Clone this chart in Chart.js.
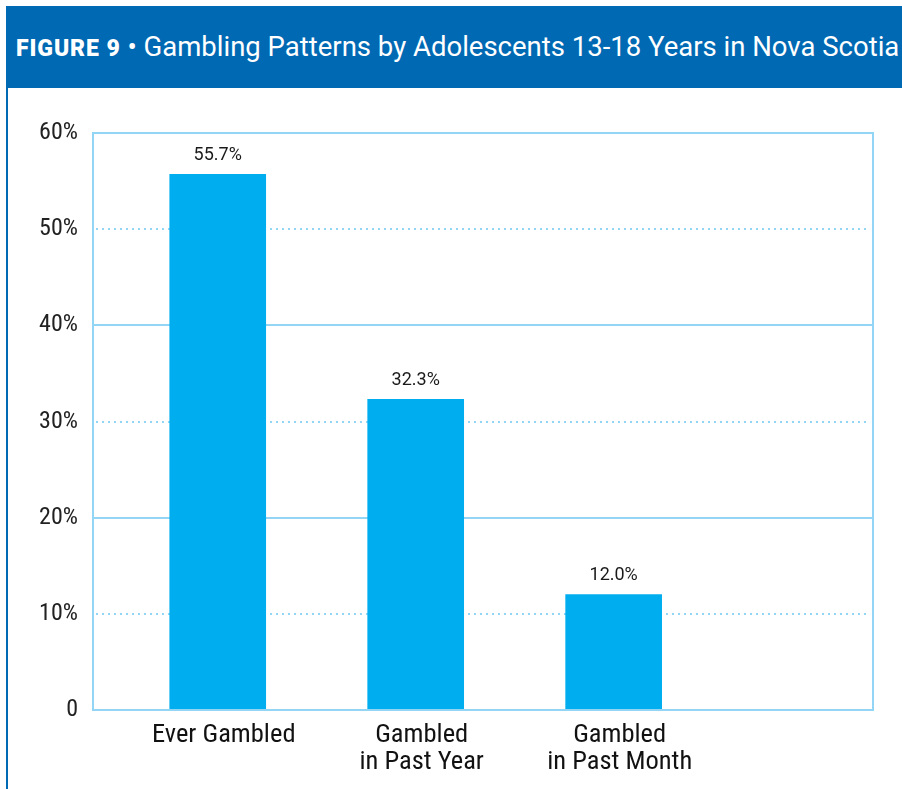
<!DOCTYPE html>
<html>
<head>
<meta charset="utf-8">
<script src="https://cdn.jsdelivr.net/npm/chart.js@4/dist/chart.umd.min.js"></script>
<style>
  html, body { margin: 0; padding: 0; background: #fff; }
  body { width: 902px; height: 789px; position: relative; overflow: hidden; }
  #header {
    position: absolute; left: 6px; top: 6px; width: 896px; height: 82px;
    background: #0069b4; color: #fff;
    font-family: Roboto, "Noto Sans", sans-serif; font-size: 27.5px;
    line-height: 82px; padding-left: 10px; box-sizing: border-box; white-space: nowrap;
  }
  #header b { font-weight: 900; font-size: 23px; letter-spacing: 0.9px; }
  #sideline { position: absolute; left: 6px; top: 88px; width: 2px; height: 701px; background: #0069b4; }
  #wrap { position: absolute; left: 8px; top: 88px; width: 894px; height: 701px; }
</style>
</head>
<body>
<div id="header"><b>FIGURE 9</b> • Gambling Patterns by Adolescents 13-18 Years in Nova Scotia</div>
<div id="sideline"></div>
<div id="wrap"><canvas id="gamblingChart" width="894" height="701"></canvas></div>
<script>
const categories = ['Ever Gambled', ['Gambled', 'in Past Year'], ['Gambled', 'in Past Month']];
const percentages = [55.7, 32.3, 12.0];
const yTicks = [0, 10, 20, 30, 40, 50, 60];

const lineBlue = '#92d5f4';
const barBlue = '#00aeef';

// grid lines: solid on 20/40, dotted on 10/30/50, plus a frame round the plot
const plotFrame = {
    id: 'plotFrame',
    beforeDatasetsDraw(chart) {
        const { ctx, chartArea, scales } = chart;
        ctx.save();
        ctx.strokeStyle = lineBlue;
        ctx.fillStyle = lineBlue;
        ctx.lineWidth = 2;
        yTicks.forEach(t => {
            if (t === 0 || t === 60) return;
            const y = Math.round(scales.y.getPixelForValue(t));
            if (t % 20 === 0) {
                ctx.beginPath();
                ctx.moveTo(chartArea.left, y);
                ctx.lineTo(chartArea.right, y);
                ctx.stroke();
            } else {
                for (let x = chartArea.left + 3; x < chartArea.right - 3; x += 6) {
                    ctx.fillRect(x, y - 1, 2, 2);
                }
            }
        });
        ctx.restore();
    },
    afterDatasetsDraw(chart) {
        const { ctx, chartArea } = chart;
        ctx.save();
        ctx.strokeStyle = lineBlue;
        ctx.lineWidth = 2;
        ctx.strokeRect(chartArea.left, chartArea.top, chartArea.right - chartArea.left, chartArea.bottom - chartArea.top);

        // value labels above the bars
        const meta = chart.getDatasetMeta(0);
        ctx.fillStyle = '#1a1a1a';
        ctx.font = '18px Roboto, "Noto Sans", sans-serif';
        ctx.textAlign = 'center';
        ctx.textBaseline = 'bottom';
        meta.data.forEach((bar, i) => {
            ctx.fillText(percentages[i].toFixed(1) + '%', bar.x, bar.y - 10);
        });
        ctx.restore();
    }
};

const ctx = document.getElementById('gamblingChart').getContext('2d');
new Chart(ctx, {
    type: 'bar',
    data: {
        datasets: [{
            data: percentages.map((v, i) => ({ x: i + 1, y: v })),
            backgroundColor: barBlue,
            borderWidth: 0,
            barThickness: 96
        }]
    },
    options: {
        responsive: false,
        animation: false,
        events: [],
        layout: { padding: { left: 0, top: 45, right: 29, bottom: 0 } },
        plugins: { legend: { display: false }, tooltip: { enabled: false } },
        scales: {
            x: {
                type: 'linear',
                offset: false,
                min: 0.37,
                max: 4.31,
                grid: { display: false, drawTicks: false },
                border: { display: false },
                afterBuildTicks: axis => { axis.ticks = categories.map((c, i) => ({ value: i + 1 })); },
                afterFit: axis => { axis.height = 79; },
                ticks: {
                    autoSkip: false,
                    maxRotation: 0,
                    padding: 12,
                    labelOffset: 6,
                    color: '#111',
                    font: { family: '"Liberation Sans Narrow", "Roboto Condensed", Roboto, sans-serif', size: 26.5, lineHeight: 1.02 },
                    callback: value => categories[value - 1]
                }
            },
            y: {
                min: 0,
                max: 60,
                grid: { display: false, drawTicks: false },
                border: { display: false },
                afterFit: axis => { axis.width = 85; },
                ticks: {
                    stepSize: 10,
                    padding: 15,
                    color: '#222',
                    font: { family: '"Liberation Sans Narrow", "Roboto Condensed", Roboto, sans-serif', size: 24 },
                    callback: v => v === 0 ? '0' : v + '%'
                }
            }
        }
    },
    plugins: [plotFrame]
});
</script>
</body>
</html>
